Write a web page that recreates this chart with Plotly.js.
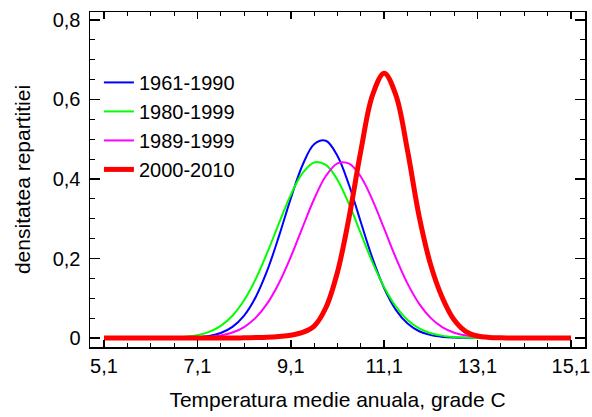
<!DOCTYPE html>
<html><head><meta charset="utf-8">
<script src="https://cdn.plot.ly/plotly-3.0.1.min.js"></script>
<style>html,body{margin:0;padding:0;background:#fff}#chart{width:592px;height:417px}</style>
</head><body><div id="chart"></div>
<script>
// Temperature grid (grade C)
const temps = [5.1,5.35,5.6,5.85,6.1,6.35,6.6,6.85,7.1,7.35,7.6,7.85,8.1,8.35,8.6,8.85,9.1,9.35,9.6,9.85,10.1,10.35,10.6,10.85,11.1,11.35,11.6,11.85,12.1,12.35,12.6,12.85,13.1,13.35,13.6,13.85,14.1,14.35,14.6,14.85,15.1];

// Density values
const dens1961_1990 = [0,0,0,0,0,0,0.0002,0.0006,0.0019,0.0051,0.0126,0.028,0.0565,0.1033,0.1712,0.2575,0.3512,0.4345,0.4876,0.4962,0.458,0.3835,0.2911,0.2005,0.1252,0.0709,0.0364,0.017,0.0072,0.0028,0.001,0.0003,0,0,0,0,0,0,0,0,0];
const dens1980_1999 = [0,0,0,0,0,0.0005,0.0013,0.0032,0.0073,0.0155,0.0307,0.0561,0.0949,0.1487,0.2158,0.2897,0.3602,0.4145,0.4416,0.4355,0.3976,0.336,0.2629,0.1904,0.1276,0.0792,0.0456,0.0242,0.0119,0.0054,0.0023,0.0009,0.0003,0,0,0,0,0,0,0,0];
const dens1989_1999 = [0,0,0,0,0,0,0,0.0004,0.0011,0.0027,0.0064,0.0138,0.0276,0.0512,0.0877,0.1391,0.2044,0.2779,0.3497,0.4074,0.4394,0.4387,0.4055,0.347,0.2749,0.2016,0.1368,0.086,0.05,0.0269,0.0134,0.0062,0.0027,0.001,0.0004,0,0,0,0,0,0];
const dens2000_2010 = [0,0,0,0,0,0,0,0,0,0,0,0,0.0005,0.001,0.002,0.004,0.007,0.014,0.03,0.076,0.166,0.305,0.471,0.611,0.666,0.611,0.471,0.305,0.182,0.1,0.045,0.016,0.005,0.0015,0.0005,0,0,0,0,0,0];

const seriesNames = ['1961-1990','1980-1999','1989-1999','2000-2010'];
const seriesColors = ['#0000ff','#00ff00','#ff00ff','#ff0000'];
const seriesWidths = [2,2,2,5];
const seriesValues = [dens1961_1990, dens1980_1999, dens1989_1999, dens2000_2010];

const xTickVals = [5.1,7.1,9.1,11.1,13.1,15.1];
const xTickText = ['5,1','7,1','9,1','11,1','13,1','15,1'];
const yTickVals = [0,0.2,0.4,0.6,0.8];
const yTickText = ['0','0,2','0,4','0,6','0,8'];

const traces = seriesValues.map((vals, i) => ({
  type: 'scatter', mode: 'lines',
  x: temps, y: vals,
  name: seriesNames[i],
  line: {color: seriesColors[i], width: seriesWidths[i], shape: 'spline', smoothing: 1}
}));

const FONT = '"Liberation Sans", Arial, sans-serif';
const layout = {
  width: 592, height: 417,
  margin: {l: 90, r: 7, t: 12, b: 70},
  paper_bgcolor: '#ffffff', plot_bgcolor: '#ffffff',
  font: {family: FONT, color: '#000000'},
  showlegend: true,
  legend: {x: 0.018, y: 0.848, xanchor: 'left', yanchor: 'top', bgcolor: 'rgba(0,0,0,0)',
           font: {size: 20, family: FONT}, traceorder: 'normal'},
  xaxis: {
    range: [4.8, 15.4], tickvals: xTickVals, ticktext: xTickText,
    ticks: 'inside', ticklen: 7, tickwidth: 1.5, tickcolor: '#000',
    showline: true, linecolor: '#000', linewidth: 1.5, mirror: 'ticks',
    showgrid: false, zeroline: false, tickfont: {size: 20},
    ticklabelstandoff: 0,
    minor: {dtick: 0.5, tick0: 5.1, ticks: 'inside', ticklen: 4, tickwidth: 1, tickcolor: '#000', showgrid: false},
    title: {text: 'Temperatura medie anuala, grade C', font: {size: 21}, standoff: 17}
  },
  yaxis: {
    range: [-0.0226, 0.82], tickvals: yTickVals, ticktext: yTickText,
    ticks: 'inside', ticklen: 10, tickwidth: 1.5, tickcolor: '#000',
    showline: true, linecolor: '#000', linewidth: 1.5, mirror: 'ticks',
    showgrid: false, zeroline: false, tickfont: {size: 20},
    ticklabelstandoff: 4,
    minor: {dtick: 0.05, tick0: 0, ticks: 'inside', ticklen: 5, tickwidth: 1, tickcolor: '#000', showgrid: false},
    title: {text: 'densitatea repartitiei', font: {size: 21}, standoff: 16}
  }
};

Plotly.newPlot('chart', traces, layout, {staticPlot: true, displayModeBar: false});
</script>
</body></html>
